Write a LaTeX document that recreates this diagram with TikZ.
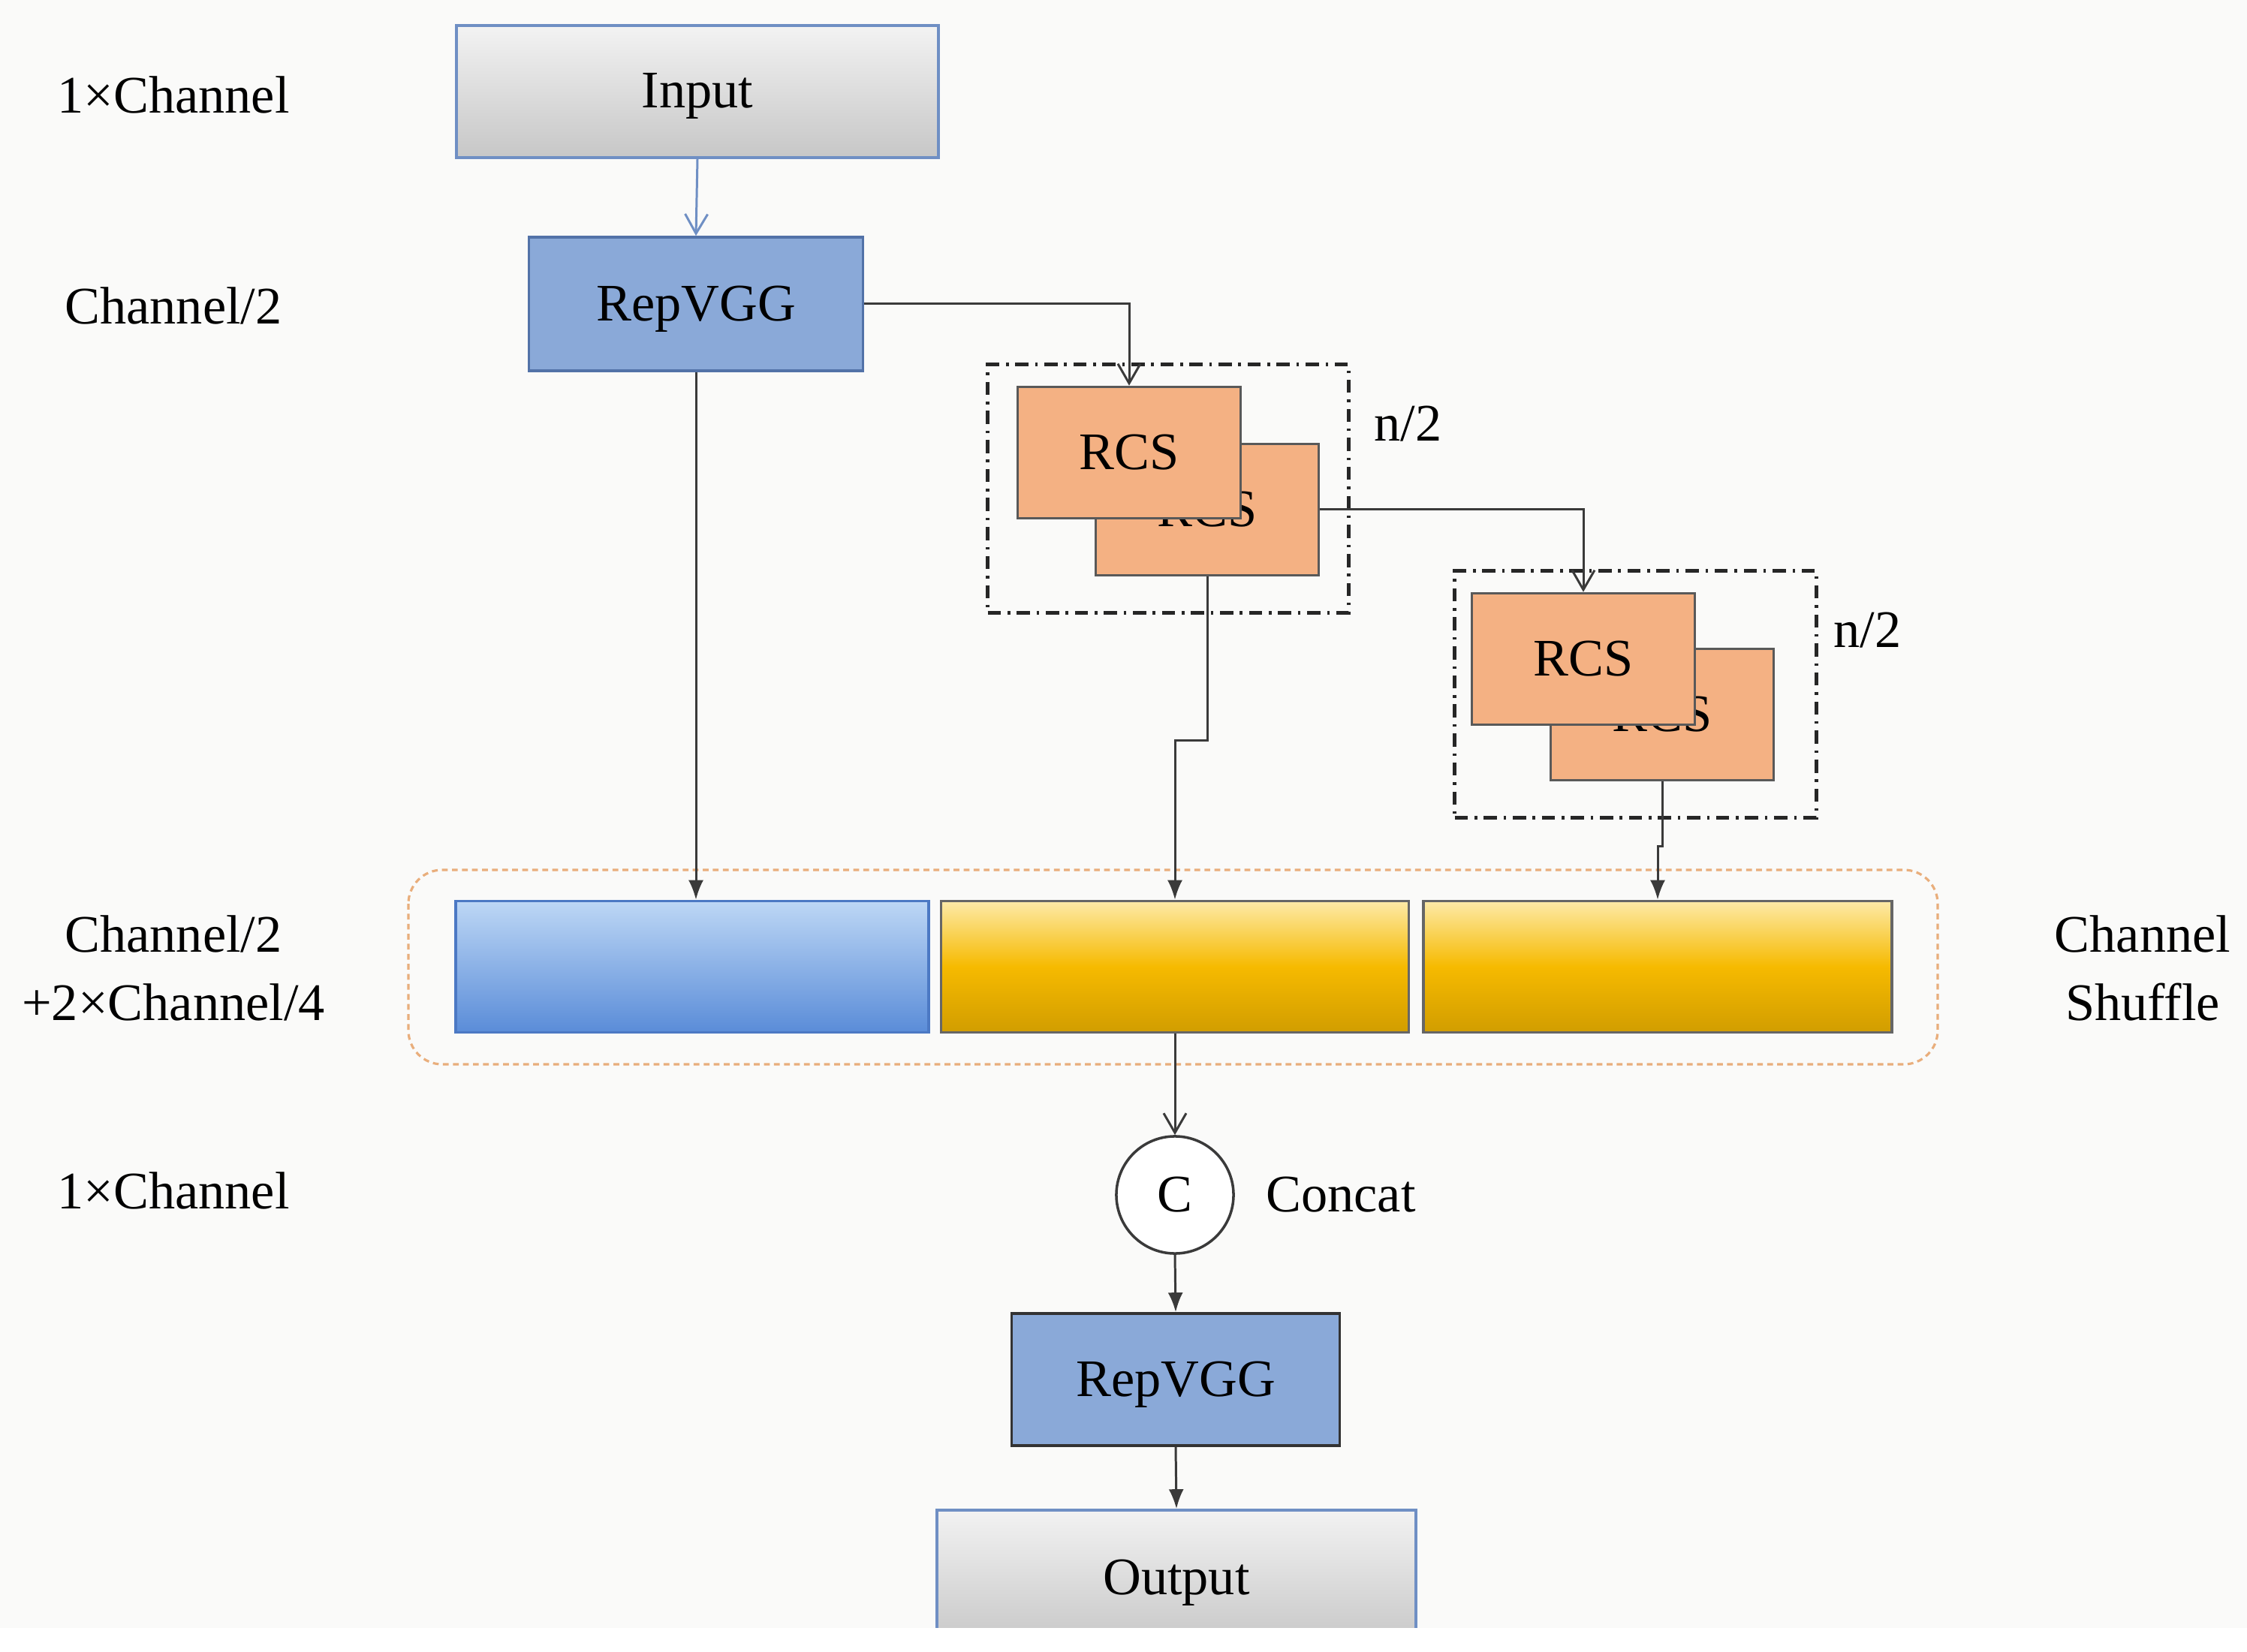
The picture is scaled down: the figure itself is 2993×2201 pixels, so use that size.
\documentclass[tikz,border=0pt]{standalone}
\usepackage{fontspec}
\setmainfont{Liberation Serif}
\usepackage{tikz}
\usetikzlibrary{arrows.meta,positioning,fit,calc}
\definecolor{bgpaper}{HTML}{FAFAF9}
\definecolor{ioborder}{HTML}{6F8FC4}
\definecolor{repfill}{HTML}{8AA9D8}
\definecolor{repborder}{HTML}{5272A8}
\definecolor{rcsfill}{HTML}{F4B183}
\definecolor{linegray}{HTML}{3A3A3A}
\definecolor{shuffle}{HTML}{E9AE7C}
\definecolor{barblue}{HTML}{4C79C4}
\definecolor{bluetop}{HTML}{BDD7F5}
\definecolor{bluebot}{HTML}{5A8CD8}
\definecolor{goldtop}{HTML}{FDEAA8}
\definecolor{goldmid}{HTML}{F6BA00}
\definecolor{goldbot}{HTML}{D19D00}
\tikzset{
  txt/.style={font=\fontsize{20}{24}\selectfont, align=center},
  boxtxt/.style={txt, text height=0.44cm, text depth=0pt},
  iobox/.style={boxtxt, draw=ioborder, line width=1pt, minimum width=6.42cm,
    minimum height=1.76cm, top color=black!5, bottom color=black!22},
  repbox/.style={boxtxt, draw=repborder, line width=1pt, fill=repfill,
    minimum width=4.45cm, minimum height=1.78cm},
  rcsbox/.style={boxtxt, draw=black!65, line width=1pt, fill=rcsfill,
    minimum width=2.97cm, minimum height=1.75cm},
  repeatbox/.style={draw=black!85, line width=1.3pt,
    dash pattern=on 5pt off 2.5pt on 1pt off 2.5pt, inner sep=0.38cm},
  bluebar/.style={draw=barblue, line width=1pt, minimum height=1.75cm,
    top color=bluetop, bottom color=bluebot},
  goldbar/.style={draw=black!60, line width=1pt, minimum height=1.75cm,
    top color=goldtop, bottom color=goldbot, middle color=goldmid},
  arr/.style={-{Latex[length=2.6mm,width=2mm]}, line width=0.85pt, draw=linegray},
  openarr/.style={-{Straight Barb[length=2.6mm,width=3mm]}, line width=0.85pt, draw=linegray}
}
\begin{document}
\begin{tikzpicture}[x=0.01cm,y=-0.01cm]
  \useasboundingbox (0,0) rectangle (2993,2201);
  \fill[bgpaper] (0,0) rectangle (2993,2169);

  % main column
  \node[iobox] (in) at (929,122) {Input};
  \node[repbox] (rep1) at (927,405) {RepVGG};

  % RCS stacks
  \node[rcsbox] (rcsb1) at (1608,679) {RCS};
  \node[rcsbox] (rcs1) at (1504,603) {RCS};
  \node[repeatbox, fit=(rcs1)(rcsb1), yshift=-0.1cm] (grp1) {};
  \node[txt, anchor=west] (n1) at (1818,565) {n/2};

  \node[rcsbox] (rcsb2) at (2214,952) {RCS};
  \node[rcsbox] (rcs2) at (2109,878) {RCS};
  \node[repeatbox, fit=(rcs2)(rcsb2), xshift=0.17cm, yshift=-0.1cm] (grp2) {};
  \node[txt, anchor=west] (n2) at (2430,840) {n/2};

  % channel shuffle
  \draw[shuffle, line width=0.9pt, dash pattern=on 2.2pt off 1.6pt, rounded corners=0.45cm]
    (544,1159) rectangle (2581,1418);
  \node[bluebar, minimum width=6.30cm] (bar0) at (922,1288) {};
  \node[goldbar, minimum width=6.23cm] (bar1) at (1565,1288) {};
  \node[goldbar, minimum width=6.24cm] (bar2) at (2208,1288) {};

  \node[boxtxt, circle, draw=linegray, line width=1pt, fill=white, minimum size=1.56cm, inner sep=0pt] (cc) at (1565,1592) {C};
  \node[txt, anchor=west] (cclab) at (1674,1592) {Concat};
  \node[repbox, draw=black!80, minimum width=4.37cm, minimum height=1.76cm] (rep2) at (1566,1838) {RepVGG};
  \node[iobox, minimum width=6.38cm, minimum height=1.80cm] (out) at (1567,2102) {Output};
  \fill[white] (0,2169) rectangle (2993,2201);

  % side labels
  \node[txt] (l1) at (231,126) {1×Channel};
  \node[txt] (l2) at (231,407) {Channel/2};
  \node[txt, font=\fontsize{20}{26}\selectfont] (l3) at (231,1290) {Channel/2\\+2×Channel/4};
  \node[txt] (l4) at (231,1586) {1×Channel};
  \node[txt, font=\fontsize{20}{26}\selectfont] (l5) at (2854,1290) {Channel\\Shuffle};

  % connectors
  \draw[openarr, draw=ioborder] (in.south) -- (rep1.north);
  \draw[openarr] (rep1.east) -| (rcs1.north);
  \draw[openarr] (rcsb1.east) -| (rcs2.north);
  \draw[arr] (rep1.south) -- (rep1.south |- bar0.north);
  \draw[arr] (rcsb1.south) -- ++(0,218) -| (bar1.north);
  \draw[arr] (rcsb2.south) -- ++(0,86) -| (bar2.north);
  \draw[openarr] (bar1.south) -- (cc.north);
  \draw[arr] (cc.south) -- (rep2.north);
  \draw[arr] (rep2.south) -- (out.north);
\end{tikzpicture}
\end{document}
